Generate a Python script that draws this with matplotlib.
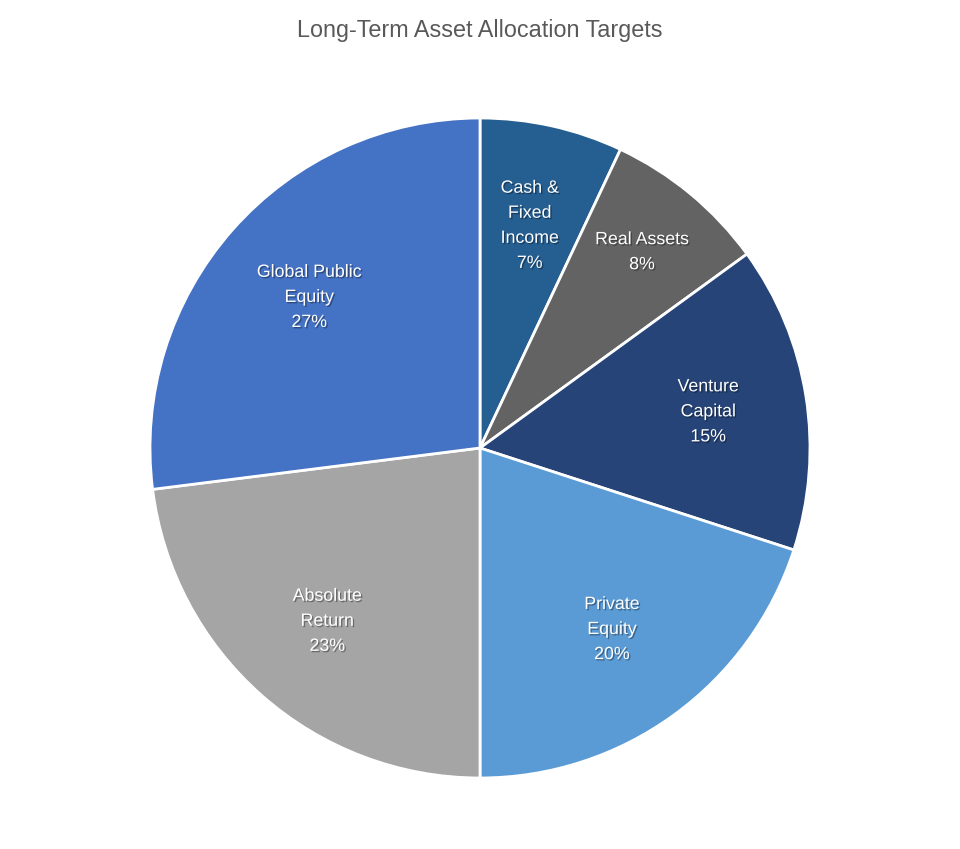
import numpy as np
import matplotlib.pyplot as plt
import matplotlib.patheffects as pe

plt.rcParams["font.family"] = ["Liberation Sans", "DejaVu Sans"]

# Data
labels = ["Cash &\nFixed\nIncome", "Real Assets", "Venture\nCapital",
          "Private\nEquity", "Absolute\nReturn", "Global Public\nEquity"]
shares = [7, 8, 15, 20, 23, 27]
colors = ["#255E91", "#636363", "#264478", "#5B9BD5", "#A5A5A5", "#4472C4"]
label_dist = [0.69, 0.77, 0.70, 0.68, 0.70, 0.69]

fig = plt.figure(figsize=(9.6, 8.49), dpi=100)
ax = fig.add_axes([0, 0, 1, 1])

cx, cy, r = 480, 849 - 448, 330
wedges, _ = ax.pie(shares, colors=colors, startangle=90, counterclock=False,
                   radius=r, center=(cx, cy), frame=True,
                   wedgeprops=dict(edgecolor="white", linewidth=2))
ax.set_xlim(0, 960)
ax.set_ylim(0, 849)
ax.set_aspect("equal")
ax.axis("off")

shadow = [pe.withSimplePatchShadow(offset=(1, -1), shadow_rgbFace="black", alpha=0.35)]
for w, lab, val, d in zip(wedges, labels, shares, label_dist):
    ang = np.deg2rad((w.theta1 + w.theta2) / 2)
    x = cx + d * r * np.cos(ang)
    y = cy + d * r * np.sin(ang)
    ax.text(x, y, f"{lab}\n{val}%", ha="center", va="center", color="white",
            fontsize=12.8, linespacing=1.62, path_effects=shadow)

fig.text(0.5, 1 - 31 / 849, "Long-Term Asset Allocation Targets", ha="center",
         va="center", fontsize=16.8, color="#595959")

plt.savefig("out.png", dpi=100)
